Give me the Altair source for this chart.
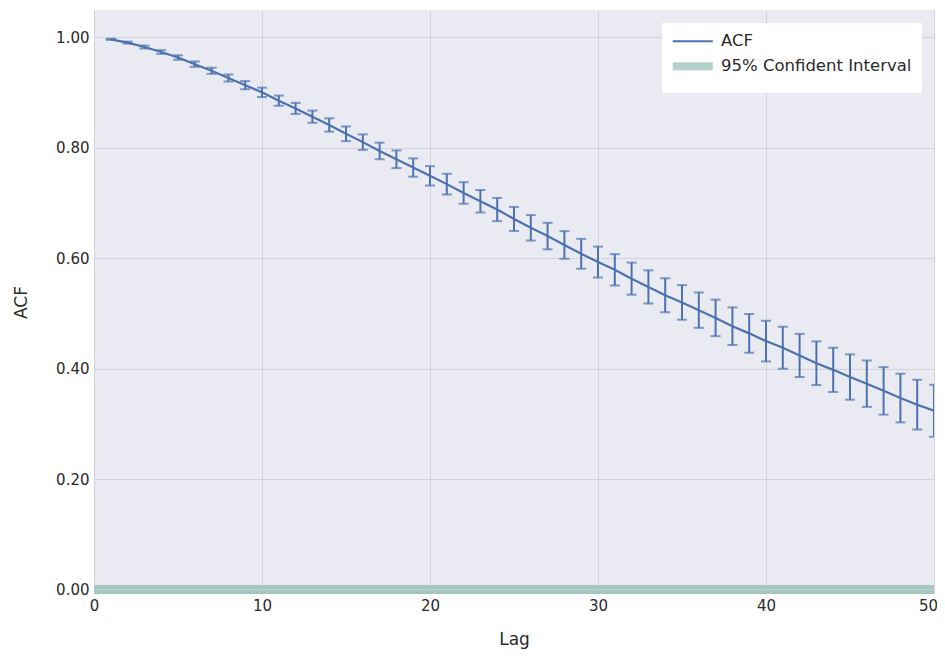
import altair as alt
import pandas as pd

lags = list(range(1, 51))
acf_values = [
    0.996, 0.990, 0.982, 0.973, 0.963, 0.951, 0.939, 0.926, 0.913, 0.900,
    0.885, 0.871, 0.856, 0.841, 0.825, 0.810, 0.794, 0.779, 0.764, 0.749,
    0.734, 0.718, 0.703, 0.688, 0.671, 0.655, 0.640, 0.624, 0.608, 0.593,
    0.579, 0.563, 0.548, 0.533, 0.520, 0.506, 0.492, 0.477, 0.464, 0.450,
    0.438, 0.424, 0.410, 0.398, 0.385, 0.373, 0.360, 0.347, 0.335, 0.324,
]
acf_errors = [
    0.0010, 0.0018, 0.0026, 0.0033, 0.0040, 0.0048, 0.0056, 0.0064, 0.0074, 0.0085,
    0.0092, 0.0100, 0.0110, 0.0120, 0.0133, 0.0140, 0.0150, 0.0160, 0.0166, 0.0175,
    0.0187, 0.0195, 0.0203, 0.0210, 0.0217, 0.0230, 0.0240, 0.0250, 0.0270, 0.0280,
    0.0283, 0.0290, 0.0300, 0.0307, 0.0313, 0.0320, 0.0330, 0.0340, 0.0350, 0.0368,
    0.0380, 0.0390, 0.0395, 0.0400, 0.0410, 0.0420, 0.0430, 0.0440, 0.0450, 0.0470,
]
band_lags = [0, 50]
ci_lower = [-0.009, -0.009]
ci_upper = [0.009, 0.009]
series_names = ["ACF", "95% Confident Interval"]
series_colors = ["#4c72b0", "#b3d1cb"]

df = pd.DataFrame({"lag": lags, "acf": acf_values, "err": acf_errors})
df["lo"] = df["acf"] - df["err"]
df["hi"] = df["acf"] + df["err"]
df["series"] = series_names[0]

band = pd.DataFrame({"lag": band_lags, "lo": ci_lower, "hi": ci_upper})
band["mid"] = (band["lo"] + band["hi"]) / 2

xscale = alt.Scale(domain=[0, 50], nice=False, zero=False)
yscale = alt.Scale(domain=[-0.0075, 1.049], nice=False, zero=False)

xaxis = alt.Axis(values=[0, 10, 20, 30, 40, 50], title="Lag", labelPadding=4,
                 titlePadding=18, grid=True, ticks=False, domain=False,
                 labelFlush=False,
                 labelOffset={"expr": "datum.value == 50 ? -6 : 0"})
yaxis = alt.Axis(values=[0, 0.2, 0.4, 0.6, 0.8, 1.0], format=".2f", title="ACF",
                 labelPadding=5, titlePadding=25, grid=True, ticks=False, domain=False)

band_area = alt.Chart(band).mark_area(color="#a5c5c0", clip=True).encode(
    x=alt.X("lag:Q", scale=xscale, axis=xaxis),
    y=alt.Y("lo:Q", scale=yscale, axis=yaxis),
    y2="hi:Q",
)
band_mid = alt.Chart(band).mark_line(color="#bdd6d1", strokeWidth=1, clip=True).encode(
    x=alt.X("lag:Q", scale=xscale),
    y=alt.Y("mid:Q", scale=yscale),
)

rules = alt.Chart(df).mark_rule(color="#4c72b0", strokeWidth=2, clip=True).encode(
    x=alt.X("lag:Q", scale=xscale),
    y=alt.Y("lo:Q", scale=yscale),
    y2="hi:Q",
)
caps_lo = alt.Chart(df).mark_tick(color="#4c72b0", orient="horizontal", size=10,
                                  thickness=2, clip=True).encode(
    x=alt.X("lag:Q", scale=xscale),
    y=alt.Y("lo:Q", scale=yscale),
)
caps_hi = alt.Chart(df).mark_tick(color="#4c72b0", orient="horizontal", size=10,
                                  thickness=2, clip=True).encode(
    x=alt.X("lag:Q", scale=xscale),
    y=alt.Y("hi:Q", scale=yscale),
)

line = alt.Chart(df).mark_line(strokeWidth=2.2, clip=True).encode(
    x=alt.X("lag:Q", scale=xscale),
    y=alt.Y("acf:Q", scale=yscale),
    color=alt.Color(
        "series:N",
        scale=alt.Scale(domain=series_names, range=series_colors),
        legend=alt.Legend(
            title=None,
            orient="none",
            legendX=568,
            legendY=13,
            fillColor="white",
            padding=10,
            rowPadding=0,
            symbolType="M-5.714,0L5.714,0",
            symbolSize=49,
            symbolOffset=12.5,
            labelOffset=20,
            symbolStrokeWidth={"expr": "datum.value == 'ACF' ? 2 : 8"},
            labelFontSize=16.5,
            labelFont="DejaVu Sans",
            labelColor="#2a2a2a",
            labelLimit=400,
        ),
    ),
)

chart = alt.layer(band_area, band_mid, rules, caps_lo, caps_hi, line).properties(
    width=840,
    height=584,
    autosize=alt.AutoSizeParams(type="none"),
    padding={"left": 86, "top": 2, "right": 3, "bottom": 55},
).configure_view(
    fill="#eaeaf2", stroke=None
).configure_axis(
    labelFont="DejaVu Sans", titleFont="DejaVu Sans",
    labelFontSize=15, titleFontSize=17, titleFontWeight="normal",
    labelColor="#2a2a2a", titleColor="#2a2a2a",
    gridColor="#d2d2d8", gridWidth=1,
)

chart.save("out.html", embed_options={"renderer": "svg", "actions": False})
